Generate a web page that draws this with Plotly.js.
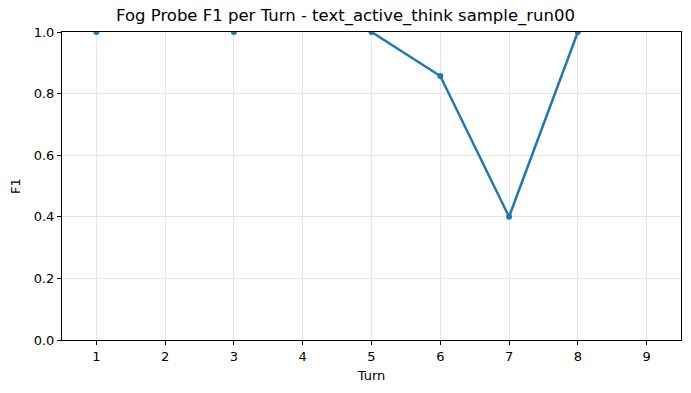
<!DOCTYPE html>
<html>
<head>
<meta charset="utf-8">
<script src="https://cdn.plot.ly/plotly-3.0.1.min.js"></script>
<style>html,body{margin:0;padding:0;background:#fff;}#chart{width:691px;height:393px;}</style>
</head>
<body>
<div id="chart"></div>
<script>
const turns = [1, 2, 3, 4, 5, 6, 7, 8];
const f1 = [1.0, null, 1.0, null, 1.0, 0.857, 0.4, 1.0];
const xTicks = [1, 2, 3, 4, 5, 6, 7, 8, 9];
const yTicks = [0, 0.2, 0.4, 0.6, 0.8, 1.0];
const yTickText = ['0.0', '0.2', '0.4', '0.6', '0.8', '1.0'];

const font = 'DejaVu Sans, sans-serif';
const trace = {
  x: turns, y: f1, type: 'scatter', mode: 'lines+markers',
  connectgaps: false,
  line: {color: '#1f77b4', width: 2.5},
  marker: {color: '#1f77b4', size: 6},
  cliponaxis: true
};
const axisCommon = {
  showline: true, linecolor: '#000', linewidth: 1, mirror: true,
  ticks: 'outside', ticklen: 4, tickcolor: '#000', tickwidth: 1,
  showgrid: true, gridcolor: '#e6e6e6', gridwidth: 1,
  zeroline: false, tickfont: {family: font, size: 13, color: '#000'}
};
const layout = {
  width: 691, height: 393,
  margin: {l: 62, r: 10, t: 32, b: 53},
  paper_bgcolor: '#fff', plot_bgcolor: '#fff',
  showlegend: false,
  title: {text: 'Fog Probe F1 per Turn - text_active_think sample_run00', font: {family: font, size: 16.5, color: '#000'}, x: 0.5, xanchor: 'center', y: 0.962, yanchor: 'middle'},
  xaxis: Object.assign({}, axisCommon, {range: [0.5, 9.5], tickvals: xTicks, ticktext: xTicks.map(String), title: {text: 'Turn', font: {family: font, size: 13, color: '#000'}, standoff: 8}}),
  yaxis: Object.assign({}, axisCommon, {range: [0, 1], tickvals: yTicks, ticktext: yTickText, title: {text: 'F1', font: {family: font, size: 13, color: '#000'}, standoff: 10}})
};
Plotly.newPlot('chart', [trace], layout, {staticPlot: true, displayModeBar: false});
</script>
</body>
</html>
